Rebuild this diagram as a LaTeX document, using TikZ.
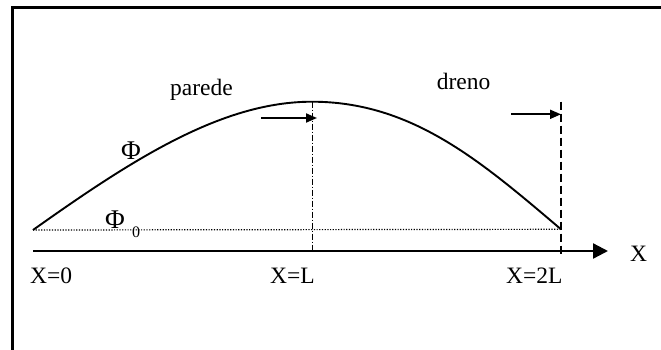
\documentclass[tikz,border=0pt]{standalone}
\usepackage{fontspec}
\setmainfont{Liberation Serif}
\usetikzlibrary{arrows.meta}
\begin{document}
\begin{tikzpicture}[x=1pt,y=-1pt,
  lbl/.style={inner sep=0pt,anchor=base west,font=\fontsize{23.5}{28}\selectfont},
  philbl/.style={inner sep=0pt,anchor=base west,font=\fontsize{27}{32}\selectfont},
  sublbl/.style={inner sep=0pt,anchor=base west,font=\fontsize{16}{19}\selectfont},
  curve/.style={line width=1.9pt},
  axis/.style={line width=2.3pt,-{Triangle[length=15pt,width=15pt]}},
  flowarrow/.style={line width=1.9pt,-{Triangle[length=11pt,width=9pt]}},
  refline/.style={line width=1.2pt,dash pattern=on 1.2pt off 1.5pt},
  midline/.style={line width=0.8pt,dash pattern=on 6pt off 2pt on 1pt off 2pt},
  drainline/.style={line width=1.8pt,dash pattern=on 8pt off 4pt}]
\path[use as bounding box] (0,0) rectangle (661,349);
\begin{scope}
\clip (0,0) rectangle (661,349);
\draw[line width=3pt] (12,7) rectangle (720,420);
\end{scope}
% key points
\coordinate (start) at (33,230);
\coordinate (peak) at (312,101.7);
\coordinate (finish) at (561,229.3);
\coordinate (axisL) at (33,251);
\coordinate (axisR) at (608,251);
\coordinate (midfoot) at (312,251);
\coordinate (draintop) at (561,101.7);
\coordinate (drainfoot) at (561,255);
\coordinate (pA) at (261,118);
\coordinate (pB) at (317,118);
\coordinate (dA) at (511,114.3);
\coordinate (dB) at (561,114.3);
% reference level
\draw[refline] (start) -- (finish);
% lines
\draw[midline] (peak) -- (midfoot);
\draw[drainline] (draintop) -- (drainfoot);
% curve
\draw[curve] (start) .. controls (133,159) and (222,101.7) .. (peak)
  .. controls (412,101.7) and (481,161.3) .. (finish);
% axis
\draw[axis] (axisL) -- (axisR);
% arrows
\draw[flowarrow] (pA) -- (pB);
\draw[flowarrow] (dA) -- (dB);
% labels
\node[lbl] (x0) at (30,283.3) {X=0};
\node[lbl] (xL) at (270,283.3) {X=L};
\node[lbl] (x2L) at (506,283.3) {X=2L};
\node[lbl] (xax) at (630,261.7) {X};
\node[lbl] (par) at (170,95) {parede};
\node[lbl] (dre) at (436.7,89) {dreno};
\node[philbl] (phi) at (121,159) {Φ};
\node[philbl] (phi0) at (105,228) {Φ};
\node[sublbl] (sub0) at (132,237.5) {0};
\end{tikzpicture}
\end{document}
